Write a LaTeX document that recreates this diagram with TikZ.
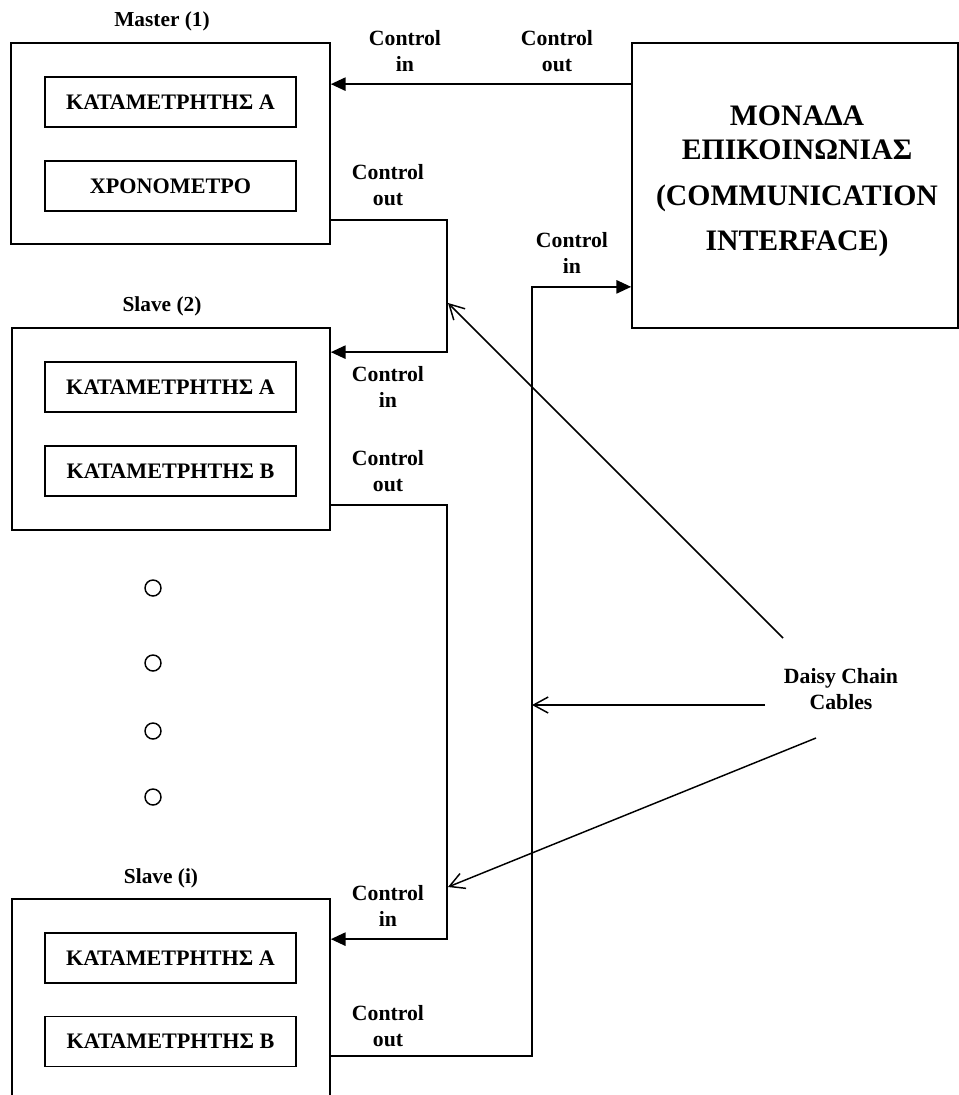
\documentclass[tikz,border=0pt]{standalone}
\usepackage{fontspec}
\setmainfont{Liberation Serif}
\usetikzlibrary{arrows.meta,calc,fit}
\begin{document}
\begin{tikzpicture}[x=0.75pt,y=-0.75pt,
  box/.style={draw,line width=1.3pt,inner sep=0pt},
  unit/.style={draw,line width=1.2pt,minimum width=251*0.75pt,minimum height=50*0.75pt,inner sep=0pt,font=\fontsize{16.6}{19}\selectfont\bfseries},
  lbl/.style={align=center,inner sep=0pt,font=\fontsize{16.3}{19.5}\selectfont\bfseries},
  ttl/.style={inner sep=0pt,font=\fontsize{16}{19.5}\selectfont\bfseries},
  sig/.style={line width=1.1pt,-{Triangle[length=11pt,width=10pt]}},
  cable/.style={line width=1.1pt,-{Straight Barb[length=11pt,width=12pt,line width=1.1pt]}},
  dot/.style={circle,draw,line width=1.1pt,minimum size=12pt,inner sep=0pt}]
\useasboundingbox (0,0) rectangle (959,1095);
\clip (0,0) rectangle (959,1095);

% master
\node[box,fit={(11,43) (330,244)}] (master) {};
\node[unit] (m1) at (170.5,102) {ΚΑΤΑΜΕΤΡΗΤΗΣ Α};
\node[unit] (m2) at (170.5,186) {ΧΡΟΝΟΜΕΤΡΟ};
\node[ttl] (mt) at (162,21) {Master (1)};

% slave 2
\node[box,fit={(12,328) (330,530)}] (slave2) {};
\node[unit] (s2a) at (170.5,387) {ΚΑΤΑΜΕΤΡΗΤΗΣ Α};
\node[unit] (s2b) at (170.5,471) {ΚΑΤΑΜΕΤΡΗΤΗΣ Β};
\node[ttl] (s2t) at (162,306) {Slave (2)};

% slave i
\node[box,fit={(12,899) (330,1110)}] (slavei) {};
\node[unit] (sia) at (170.5,958) {ΚΑΤΑΜΕΤΡΗΤΗΣ Α};
\node[unit] (sib) at (170.5,1041.5) {ΚΑΤΑΜΕΤΡΗΤΗΣ Β};
\node[ttl] (sit) at (161,878) {Slave (i)};

% dots
\node[dot] (d1) at (153,588) {};
\node[dot] (d2) at (153,663) {};
\node[dot] (d3) at (153,731) {};
\node[dot] (d4) at (153,797) {};

% communication interface
\node[box,fit={(632,43) (958,328)}] (comm) {};
\node[align=center,inner sep=0pt,font=\fontsize{22.3}{25.5}\selectfont\bfseries] (commt) at (797,181.5)
  {ΜΟΝΑΔΑ\\ΕΠΙΚΟΙΝΩΝΙΑΣ\\[8.5pt](COMMUNICATION\\[8.5pt]INTERFACE)};

% bus columns
\coordinate (busA) at (447,0);
\coordinate (busB) at (532,0);

% connectors
\draw[sig] ($(comm.north west)+(0,42)$) coordinate (c1) -- (c1 -| master.east);
\draw[sig] ($(master.south east)+(0,-25)$) coordinate (mo) -- (mo -| busA) |- ($(slave2.north east)+(0,25)$);
\draw[sig] ($(slave2.south east)+(0,-26)$) coordinate (so) -- (so -| busA) |- ($(slavei.north east)+(0,41)$);
\draw[sig] ($(slavei.north east)+(0,158)$) coordinate (io) -- (io -| busB) |- ($(comm.south west)+(0,-42)$);

% labels
\node[lbl] (l1) at (405,51) {Control\\in};
\node[lbl] (l2) at (557,51) {Control\\out};
\node[lbl] (l3) at (388,185) {Control\\out};
\node[lbl] (l4) at (572,253) {Control\\in};
\node[lbl] (l5) at (388,387) {Control\\in};
\node[lbl] (l6) at (388,471) {Control\\out};
\node[lbl] (l7) at (388,906) {Control\\in};
\node[lbl] (l8) at (388,1026) {Control\\out};

% daisy chain cables
\node[lbl] (daisy) at (841,689) {Daisy Chain\\Cables};
\coordinate (ds1) at (783,638);
\coordinate (ds2) at (765,705);
\coordinate (ds3) at (816,738);
\coordinate (dt1) at (448,303);
\coordinate (dt2) at (532,705);
\coordinate (dt3) at (448,887);
\draw[cable] (ds1) -- (dt1);
\draw[cable] (ds2) -- (dt2);
\draw[cable] (ds3) -- (dt3);
\end{tikzpicture}
\end{document}
